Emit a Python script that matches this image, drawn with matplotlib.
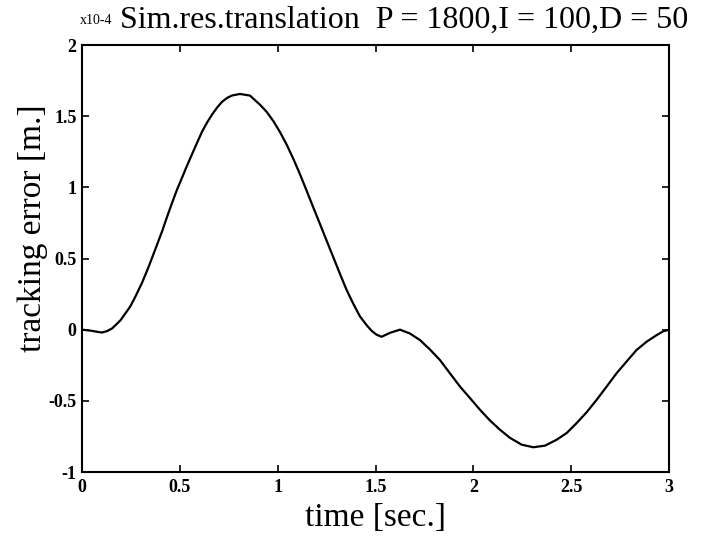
import numpy as np
import matplotlib
matplotlib.use('Agg')
import matplotlib.pyplot as plt

# 追従誤差のシミュレーション結果 (x1e-4 m)
time_s = [0.0, 0.026, 0.05, 0.077, 0.102, 0.128, 0.153, 0.17, 0.196, 0.221,
          0.247, 0.272, 0.307, 0.34, 0.375, 0.409, 0.434, 0.46, 0.485, 0.511,
          0.536, 0.562, 0.588, 0.613, 0.639, 0.664, 0.69, 0.715, 0.741, 0.766,
          0.807, 0.858, 0.91, 0.944, 0.978, 1.012, 1.046, 1.08, 1.114, 1.148,
          1.182, 1.216, 1.25, 1.284, 1.318, 1.352, 1.386, 1.42, 1.455, 1.48,
          1.505, 1.531, 1.574, 1.625, 1.676, 1.727, 1.778, 1.829, 1.88, 1.932,
          1.983, 2.034, 2.085, 2.136, 2.187, 2.247, 2.306, 2.366, 2.426, 2.477,
          2.528, 2.579, 2.63, 2.681, 2.732, 2.783, 2.834, 2.885, 2.937, 2.97,
          3.0]
error_e4 = [0.0, -0.004, -0.008, -0.015, -0.02, -0.01, 0.008, 0.03, 0.065, 0.113,
            0.164, 0.23, 0.33, 0.44, 0.566, 0.69, 0.79, 0.89, 0.982, 1.067,
            1.15, 1.232, 1.313, 1.39, 1.455, 1.51, 1.56, 1.60, 1.628, 1.645,
            1.656, 1.645, 1.58, 1.53, 1.465, 1.388, 1.30, 1.20, 1.092, 0.976,
            0.859, 0.743, 0.626, 0.51, 0.393, 0.28, 0.183, 0.094, 0.031, -0.008,
            -0.035, -0.05, -0.022, 0.0, -0.027, -0.073, -0.139, -0.213, -0.306, -0.40,
            -0.481, -0.563, -0.638, -0.703, -0.76, -0.808, -0.826, -0.815, -0.773, -0.726,
            -0.656, -0.58, -0.493, -0.40, -0.306, -0.224, -0.143, -0.085, -0.038, -0.012,
            0.0]

xticks = [0, 0.5, 1, 1.5, 2, 2.5, 3]
yticks = [-1, -0.5, 0, 0.5, 1, 1.5, 2]

plt.rcParams['font.family'] = ['Liberation Serif', 'DejaVu Serif']

fig = plt.figure(figsize=(7.1, 5.39), dpi=100)
ax = fig.add_axes([0.1155, 0.1243, 0.8268, 0.7922])

ax.plot(time_s, error_e4, color='black', linewidth=1.6,
        solid_joinstyle='round', solid_capstyle='round')

ax.set_xlim(0, 3)
ax.set_ylim(-1, 2)
ax.set_xticks(xticks)
ax.set_yticks(yticks)
ax.set_xticklabels(['0', '0.5', '1', '1.5', '2', '2.5', '3'])
ax.set_yticklabels(['-1', '-0.5', '0', '0.5', '1', '1.5', '2'])
ax.tick_params(direction='in', length=5, width=1.2, top=True, right=True,
               labelsize=13)
ax.tick_params(axis='x', pad=5)
ax.tick_params(axis='y', pad=4)
for lbl in ax.get_xticklabels() + ax.get_yticklabels():
    lbl.set_fontweight('bold')
for sp in ax.spines.values():
    sp.set_linewidth(1.5)

# 軸ラベル
fig.text(375.5 / 710, 1 - 518 / 539, 'time [sec.]', fontsize=24,
         ha='center', va='center')
fig.text(33 / 710, 1 - 228 / 539, 'tracking error [m.]', fontsize=24,
         ha='center', va='center', rotation=90)

fig.text(0.169, 0.963, 'Sim.res.translation  P = 1800,I = 100,D = 50',
         fontsize=23, ha='left', va='center')
fig.text(0.112, 0.962, 'x10-4', fontsize=10, ha='left', va='center')

fig.savefig('out.png', dpi=100)
